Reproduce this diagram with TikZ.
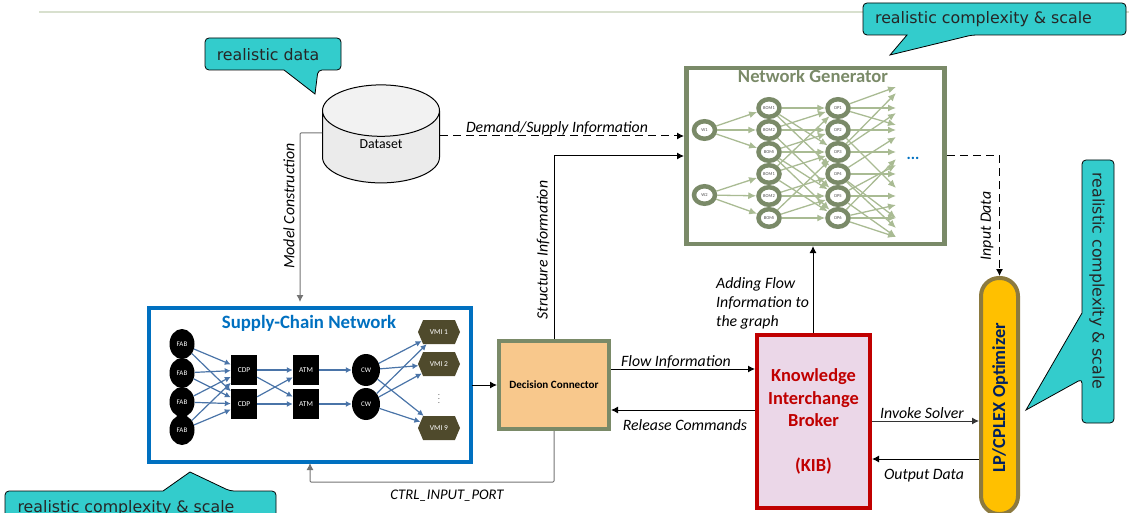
\documentclass[tikz,border=0pt]{standalone}
\usepackage{fontspec}
\setmainfont{Carlito}
\newfontfamily\calloutfont{DejaVu Sans}
\usetikzlibrary{arrows.meta,shapes.geometric,shapes.symbols}
\tikzset{
  edgelabel/.style={font=\fontsize{15.8}{18}\selectfont\itshape,inner sep=0pt,align=left},
  calloutbox/.style={draw=black,line width=0.8pt,fill=calloutfill},
  callouttext/.style={font=\calloutfont\fontsize{15.8}{18}\selectfont,text=black!85,inner sep=0pt},
  sccircle/.style={ellipse,fill=black,text=white,inner sep=0pt,font=\fontsize{7}{8}\selectfont},
  scsquare/.style={rectangle,fill=black,text=white,inner sep=0pt,minimum width=26pt,minimum height=30pt,font=\fontsize{7.5}{9}\selectfont},
  scvmi/.style={signal,signal to=west and east,signal pointer angle=134,fill=vmifill,text=white,inner sep=0pt,minimum width=42pt,minimum height=24pt,font=\fontsize{7.5}{9}\selectfont},
  genring/.style={ellipse,draw=genborder,line width=4.5pt,fill=white,inner sep=0pt,minimum width=21pt,minimum height=17.5pt,text=black!70,font=\fontsize{4.5}{5}\selectfont},
  scarrow/.style={-{Latex[length=6pt,width=6pt]},draw=scblue,line width=1.2pt},
  genarrow/.style={-{Latex[length=8pt,width=7pt]},draw=genedge,line width=1.3pt},
  mainarrow/.style={-{Latex[length=7pt,width=7pt]},draw=black,line width=1pt},
  grayarrow/.style={-{Latex[length=7pt,width=7pt]},draw=black!55,line width=1pt,rounded corners=1pt},
}
\definecolor{calloutfill}{HTML}{33CCCC}
\definecolor{vmifill}{HTML}{4F4A2C}
\definecolor{genborder}{HTML}{7A8A68}
\definecolor{genedge}{HTML}{A9BB93}
\definecolor{scblue}{HTML}{4A74A8}
\definecolor{boxblue}{HTML}{0070C0}
\definecolor{kibred}{HTML}{C00000}
\definecolor{decisionfill}{HTML}{F8C88C}
\definecolor{kibfill}{HTML}{EBD7E8}
\definecolor{optborder}{HTML}{8C7A3F}
\definecolor{optfill}{HTML}{FFC000}
\definecolor{optnavy}{HTML}{002060}
\begin{document}
\begin{tikzpicture}[x=1pt,y=-1pt]
  \useasboundingbox (0,0) rectangle (1129,513);
  \clip (0,0) rectangle (1129,513);
  \draw[color=genedge!45,line width=1.5pt] (39,12) -- (1129,12);

  % callouts
  \draw[calloutbox] (284,70) [rounded corners=4] -- (205,70) -- (205,38) -- (341,38) -- (341,70) -- (318,70) [sharp corners] -- (315,94) -- cycle;
  \draw[calloutbox] (907,35) [rounded corners=4] -- (863,35) -- (863,3) -- (1126,3) -- (1126,35) -- (972,35) [sharp corners] -- (890,55) -- cycle;
  \draw[calloutbox] (1082,313) [rounded corners=4] -- (1082,160) -- (1114,160) -- (1114,423) -- (1082,423) -- (1082,379) [sharp corners] -- (1026,410) -- cycle;
  \draw[calloutbox] (163,491) [rounded corners=4] -- (5,491) -- (5,530) -- (276,530) -- (276,491) -- (230,491) [sharp corners] -- (190,472) -- cycle;
  \draw
    (268,55) node[callouttext] (calloutdata){realistic data}
    (983.5,19) node[callouttext] (calloutgen){realistic complexity \& scale}
    (1097,281) node[callouttext,rotate=-90] (calloutlp){realistic complexity \& scale}
    (126,508) node[callouttext] (calloutsc){realistic complexity \& scale};

  % main boxes
  \draw
    (381,147) node[cylinder,shape border rotate=90,aspect=1.2,draw=black,line width=1pt,cylinder uses custom fill,cylinder end fill=black!5,cylinder body fill=black!8,minimum width=117pt,minimum height=98pt,inner sep=0pt,font=\fontsize{13.8}{15}\selectfont] (dataset){\raisebox{5.5pt}{Dataset}}
    (309.5,384.5) node[draw=boxblue,line width=4pt,minimum width=322pt,minimum height=154pt,inner sep=0pt] (supply){}
    (815.5,156) node[draw=genborder,line width=4.5pt,minimum width=258pt,minimum height=176pt,inner sep=0pt] (generator){}
    (554,385) node[draw=genborder,line width=4pt,fill=decisionfill,minimum width=110pt,minimum height=88pt,inner sep=0pt,font=\fontsize{11.1}{13}\selectfont\bfseries] (decision){Decision Connector}
    (813.5,421.5) node[draw=kibred,line width=4pt,fill=kibfill,minimum width=113pt,minimum height=173pt,inner sep=0pt,text=kibred,align=center,font=\fontsize{18.4}{22.5}\selectfont\bfseries] (kib){Knowledge\\Interchange\\Broker\\[22.5pt](KIB)}
    (999.5,396) node[rectangle,rounded corners=18pt,draw=optborder,line width=4pt,fill=optfill,minimum width=37pt,minimum height=236pt,inner sep=0pt] (optimizer){}
    (1000,398) node[rotate=90,inner sep=0pt,text=optnavy,font=\fontsize{18.3}{20}\selectfont\bfseries] (optimizertext){LP/CPLEX Optimizer}
    (309,323) node[inner sep=0pt,text=boxblue,font=\fontsize{18.8}{20}\selectfont\bfseries] (supplytitle){Supply-Chain Network}
    (813,76) node[inner sep=0pt,text=genborder,font=\fontsize{18.6}{20}\selectfont\bfseries] (generatortitle){Network Generator};

  % supply chain graph
  \draw
    (182,344) node[sccircle,minimum width=25pt,minimum height=30pt] (fab1){FAB}
    (182,373) node[sccircle,minimum width=25pt,minimum height=30pt] (fab2){FAB}
    (182,402) node[sccircle,minimum width=25pt,minimum height=30pt] (fab3){FAB}
    (182,430) node[sccircle,minimum width=25pt,minimum height=30pt] (fab4){FAB}
    (244,370) node[scsquare] (cdp1){CDP}
    (244,404) node[scsquare] (cdp2){CDP}
    (306,370) node[scsquare] (atm1){ATM}
    (306,404) node[scsquare] (atm2){ATM}
    (366,370) node[sccircle,minimum width=28pt,minimum height=32pt] (cw1){CW}
    (366,404) node[sccircle,minimum width=28pt,minimum height=32pt] (cw2){CW}
    (439,332) node[scvmi] (vmi1){VMI 1}
    (439,364) node[scvmi] (vmi2){VMI 2}
    (439,396) node[inner sep=0pt,font=\fontsize{7}{8}\selectfont] (vmidots){$\vdots$}
    (439,428) node[scvmi] (vmi9){VMI 9};
  \begin{scope}[scarrow]
    \draw (fab1) to (cdp1);
    \draw (fab1) to (cdp2);
    \draw (fab2) to (cdp1);
    \draw (fab2) to (cdp2);
    \draw (fab3) to (cdp1);
    \draw (fab3) to (cdp2);
    \draw (fab4) to (cdp1);
    \draw (fab4) to (cdp2);
    \draw (cdp1) to (atm1);
    \draw (cdp1) to (atm2);
    \draw (cdp2) to (atm1);
    \draw (cdp2) to (atm2);
    \draw (atm1) to (cw1);
    \draw (atm2) to (cw2);
    \draw (cw1) to (vmi1);
    \draw (cw1) to (vmi2);
    \draw (cw1) to (vmi9);
    \draw (cw2) to (vmi1);
    \draw (cw2) to (vmi2);
    \draw (cw2) to (vmi9);
  \end{scope}

  % generator graph
  \draw
    (704.5,130) node[genring] (w1){W1}
    (704.5,195) node[genring] (w2){W2}
    (769,108) node[genring] (bom1){BOM1}
    (769,130) node[genring] (bom2){BOM2}
    (769,152) node[genring] (bom3){BOMi}
    (769,174) node[genring] (bom4){BOM1}
    (769,196) node[genring] (bom5){BOM2}
    (769,218) node[genring] (bom6){BOMi}
    (838,108) node[genring] (dp1){DP1}
    (838,130) node[genring] (dp2){DP2}
    (838,152) node[genring] (dp3){DP3}
    (838,174) node[genring] (dp4){DP4}
    (838,196) node[genring] (dp5){DP5}
    (838,218) node[genring] (dp6){DP6}
    (913,158) node[inner sep=0pt,text=boxblue,font=\fontsize{16}{18}\selectfont\bfseries] (gendots){...};
  \coordinate (out1) at (896,87);
  \coordinate (out2) at (896,93);
  \coordinate (out3) at (896,108);
  \coordinate (out4) at (896,113);
  \coordinate (out5) at (896,125);
  \coordinate (out6) at (896,130);
  \coordinate (out7) at (896,137);
  \coordinate (out8) at (896,152);
  \coordinate (out9) at (896,159);
  \coordinate (out10) at (896,165);
  \coordinate (out11) at (896,174);
  \coordinate (out12) at (896,188);
  \coordinate (out13) at (896,196);
  \coordinate (out14) at (896,205);
  \coordinate (out15) at (896,218);
  \coordinate (out16) at (896,228);
  \coordinate (out17) at (896,237);
  \begin{scope}[genarrow]
    \draw (w1) to (bom1);
    \draw (w1) to (bom2);
    \draw (w1) to (bom3);
    \draw (w2) to (bom4);
    \draw (w2) to (bom5);
    \draw (w2) to (bom6);
    \draw (bom1) to (dp1);
    \draw (bom1) to (dp3);
    \draw (bom1) to (dp4);
    \draw (bom2) to (dp1);
    \draw (bom2) to (dp2);
    \draw (bom2) to (dp5);
    \draw (bom3) to (dp2);
    \draw (bom3) to (dp3);
    \draw (bom3) to (dp5);
    \draw (bom3) to (dp6);
    \draw (bom4) to (dp1);
    \draw (bom4) to (dp3);
    \draw (bom4) to (dp6);
    \draw (bom5) to (dp4);
    \draw (bom5) to (dp5);
    \draw (bom6) to (dp3);
    \draw (bom6) to (dp5);
    \draw (bom6) to (dp6);
    \draw (dp1) to (out1);
    \draw (dp1) to (out3);
    \draw (dp1) to (out5);
    \draw (dp2) to (out6);
    \draw (dp2) to (out12);
    \draw (dp3) to (out2);
    \draw (dp3) to (out4);
    \draw (dp3) to (out8);
    \draw (dp4) to (out7);
    \draw (dp4) to (out11);
    \draw (dp4) to (out15);
    \draw (dp4) to (out16);
    \draw (dp5) to (out10);
    \draw (dp5) to (out13);
    \draw (dp5) to (out17);
    \draw (dp6) to (out9);
    \draw (dp6) to (out14);
    \draw (dp6) to (out15);
    \draw (dp6) to (out17);
  \end{scope}

  % connector ends on the box borders
  \coordinate (datasetleft) at (322,133);
  \coordinate (datasetright) at (440,136);
  \coordinate (genleftup) at (684,136);
  \coordinate (genleftdown) at (684,156);
  \coordinate (genright) at (947,156);
  \coordinate (supplytop) at (300,302);
  \coordinate (supplybottom) at (310,463);
  \coordinate (decisionleft) at (497,385);
  \coordinate (supplyright) at (472,385);
  \coordinate (flowstart) at (611,369);
  \coordinate (flowend) at (755,369);
  \coordinate (releasestart) at (755,410);
  \coordinate (releaseend) at (611,410);
  \coordinate (solverstart) at (872,421);
  \coordinate (solverend) at (979,421);
  \coordinate (outputstart) at (979,459);
  \coordinate (outputend) at (872,459);
  \coordinate (kibtop) at (813,333);
  \coordinate (gentop) at (813,246);
  \coordinate (ctrlcorner) at (554,482);

  \draw[grayarrow] (datasetleft) -| (supplytop);
  \draw[mainarrow,dashed,dash pattern=on 8pt off 5pt] (datasetright) -- (genleftup);
  \draw[mainarrow] (decision.north) |- (genleftdown);
  \draw[mainarrow,dashed,dash pattern=on 8pt off 5pt] (genright) -| (optimizer.north);
  \draw[mainarrow] (supplyright) -- (decisionleft);
  \draw[grayarrow] (decision.south) -- (ctrlcorner) -| (supplybottom);
  \draw[mainarrow] (flowstart) -- (flowend);
  \draw[mainarrow] (releasestart) -- (releaseend);
  \draw[mainarrow] (kibtop) -- (gentop);
  \draw[mainarrow,draw=black!80] (solverstart) -- (solverend);
  \draw[mainarrow] (outputstart) -- (outputend);

  % connector labels
  \draw
    (289,206) node[edgelabel,rotate=90] (modellabel){Model Construction}
    (557,128) node[edgelabel] (demandlabel){Demand/Supply Information}
    (543,250) node[edgelabel,rotate=90] (structurelabel){Structure Information}
    (987,226) node[edgelabel,rotate=90] (inputlabel){Input Data}
    (716,303) node[edgelabel,anchor=west,font=\fontsize{15.8}{19}\selectfont\itshape] (addinglabel){Adding Flow\\Information to\\the graph}
    (676,362) node[edgelabel] (flowlabel){Flow Information}
    (685,425) node[edgelabel] (releaselabel){Release Commands}
    (922,413) node[edgelabel] (solverlabel){Invoke Solver}
    (924,476) node[edgelabel] (outputlabel){Output Data}
    (447,496) node[edgelabel,font=\fontsize{14.7}{17}\selectfont\itshape] (ctrllabel){CTRL\_INPUT\_PORT};
\end{tikzpicture}
\end{document}
